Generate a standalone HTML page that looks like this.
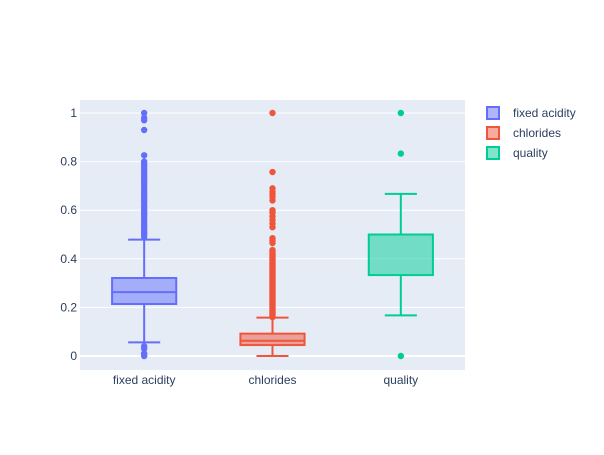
<!DOCTYPE html>
<html><head><meta charset="utf-8"><style>
body{margin:0;background:#fff;font-family:"Liberation Sans",sans-serif;}
svg text{font-family:"Liberation Sans",sans-serif;fill:#2a3f5f;font-size:12px;}
</style></head><body>
<svg id="chart" width="604" height="450" xmlns="http://www.w3.org/2000/svg">
<rect x="0" y="0" width="604" height="450" fill="#fff"/>
<rect x="80" y="100" width="385" height="270" fill="#E5ECF6"/>
<g id="grid"></g><g id="boxes"></g><g id="legend"></g>
</svg>
<script>
const categories=["fixed acidity","chlorides","quality"];
const colors=["#636efa","#EF553B","#00cc96"];
const q1=[0.214,0.045,0.333];
const medians=[0.263,0.063,0.5];
const q3=[0.321,0.092,0.5];
const lowerFence=[0.056,0,0.167];
const upperFence=[0.479,0.158,0.667];
const outliersFixed=[0,0.01,0.03,0.04,0.49,0.5,0.51,0.52,0.53,0.54,0.55,0.56,0.57,0.58,0.59,0.6,0.61,0.62,0.63,0.64,0.65,0.66,0.67,0.68,0.69,0.7,0.71,0.72,0.73,0.74,0.75,0.76,0.77,0.78,0.79,0.8,0.826,0.93,0.97,0.98,1];
const outliersChlor=[0.16,0.165,0.17,0.175,0.18,0.185,0.19,0.195,0.2,0.205,0.21,0.215,0.22,0.225,0.23,0.235,0.24,0.245,0.25,0.255,0.26,0.265,0.27,0.275,0.28,0.285,0.29,0.295,0.3,0.305,0.31,0.315,0.32,0.325,0.33,0.335,0.34,0.345,0.35,0.355,0.36,0.365,0.37,0.375,0.38,0.385,0.39,0.395,0.4,0.405,0.41,0.415,0.42,0.425,0.43,0.436,0.465,0.475,0.485,0.53,0.545,0.56,0.575,0.59,0.6,0.64,0.655,0.665,0.675,0.69,0.757,1];
const outliersQual=[0,0.833,1];
const yTicks=[0,0.2,0.4,0.6,0.8,1];
const yTickLabels=["0","0.2","0.4","0.6","0.8","1"];
const NS="http://www.w3.org/2000/svg";
const X0=80,X1=465,band=(X1-X0)/categories.length;
function y(v){return 356-243*v;}
function xc(i){return X0+band*(i+0.5);}
function mk(tag,attrs,parent){const e=document.createElementNS(NS,tag);for(const k in attrs)e.setAttribute(k,attrs[k]);parent.appendChild(e);return e;}
const grid=document.getElementById('grid');
yTicks.forEach((t,i)=>{
  const l=mk('line',{x1:X0,x2:X1,y1:y(t),y2:y(t),stroke:'#fff','stroke-width':t===0?2:1},grid);
  
  
  const tx=mk('text',{x:77,y:y(t)+4,'text-anchor':'end'},grid);tx.textContent=yTickLabels[i];
  
  
});
const boxes=document.getElementById('boxes');
const outs=[outliersFixed,outliersChlor,outliersQual];
categories.forEach((c,i)=>{
  const cx=xc(i),hw=band*0.25,ww=band*0.125,col=colors[i];
  const g=mk('g',{},boxes);
  
  
  mk('line',{x1:cx,x2:cx,y1:y(q3[i]),y2:y(upperFence[i]),stroke:col,'stroke-width':2},g);
  mk('line',{x1:cx,x2:cx,y1:y(q1[i]),y2:y(lowerFence[i]),stroke:col,'stroke-width':2},g);
  mk('line',{x1:cx-ww,x2:cx+ww,y1:y(upperFence[i]),y2:y(upperFence[i]),stroke:col,'stroke-width':2},g);
  mk('line',{x1:cx-ww,x2:cx+ww,y1:y(lowerFence[i]),y2:y(lowerFence[i]),stroke:col,'stroke-width':2},g);
  mk('rect',{x:cx-hw,y:y(q3[i]),width:2*hw,height:Math.max(0,y(q1[i])-y(q3[i])),fill:col,'fill-opacity':0.5,stroke:col,'stroke-width':2},g);
  mk('line',{x1:cx-hw,x2:cx+hw,y1:y(medians[i]),y2:y(medians[i]),stroke:col,'stroke-width':2},g);
  outs[i].forEach(v=>{const p=mk('circle',{cx:cx,cy:y(v),r:3.2,fill:col},g);
    
    });
  const t=mk('text',{x:cx,y:384,'text-anchor':'middle'},boxes);t.textContent=c;
  
  
});
const lg=document.getElementById('legend');
categories.forEach((c,i)=>{
  const yy=113+i*20;
  const g=mk('g',{},lg);
  
  
  mk('rect',{x:487,y:yy-6,width:12,height:12,fill:colors[i],'fill-opacity':0.5,stroke:colors[i],'stroke-width':2},g);
  const t=mk('text',{x:513,y:yy+4},g);t.textContent=c;
});
</script>
</body></html>
